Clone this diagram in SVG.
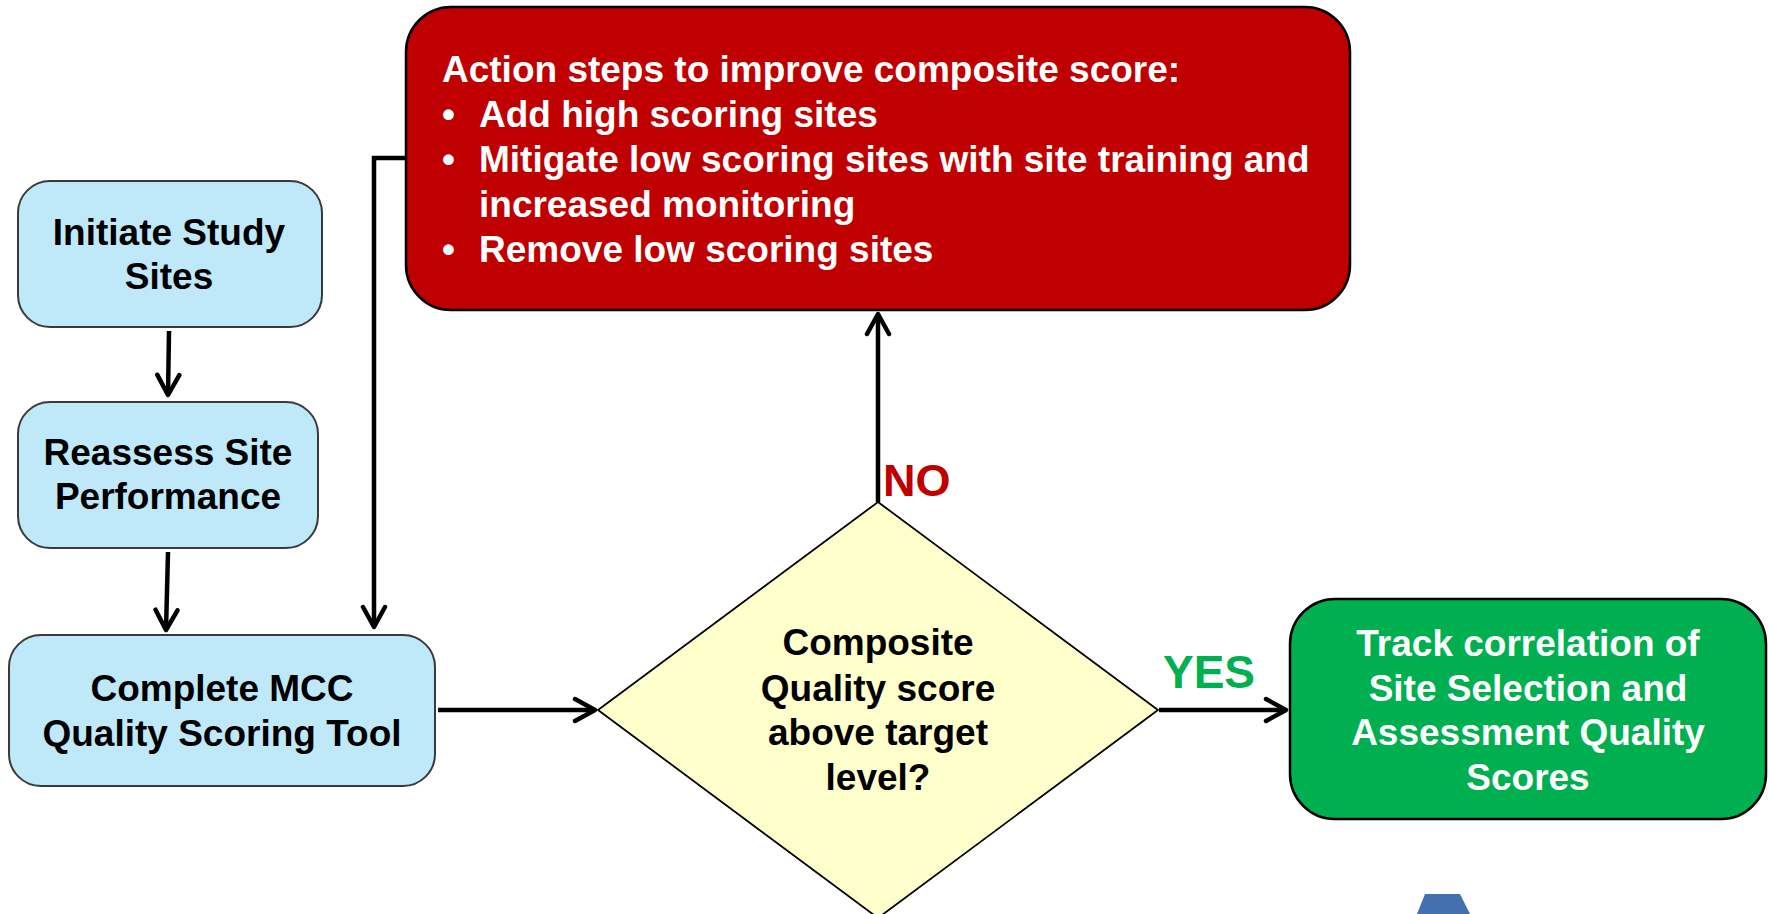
<svg xmlns="http://www.w3.org/2000/svg" width="1769" height="914" viewBox="0 0 1769 914">
<defs>
<style>
text{font-family:"Liberation Sans",Arial,Helvetica,sans-serif;font-weight:bold;}
.blue{fill:#BFE9F8;stroke:#3a3a3a;stroke-width:2;}
.red{fill:#C00000;stroke:#000;stroke-width:2.5;}
.green{fill:#00B050;stroke:#000;stroke-width:2.5;}
.dia{fill:#FFFFCC;stroke:#000;stroke-width:1.8;}
.t{font-size:37px;fill:#000;text-anchor:middle;}
.w{font-size:37px;fill:#fff;}
.wc{font-size:37px;fill:#fff;text-anchor:middle;}
.conn{fill:none;stroke:#000;stroke-width:4.5;}
</style>
<marker id="arr" markerUnits="userSpaceOnUse" viewBox="-24 -14 28 28" refX="0" refY="0" markerWidth="28" markerHeight="28" orient="auto">
<path d="M-20,-11 L0,0 L-20,11" fill="none" stroke="#000" stroke-width="4.5" stroke-linecap="round" stroke-linejoin="round"/>
</marker>
</defs>
<rect width="1769" height="914" fill="#fff"/>

<g id="connectors">
<line class="conn" x1="169" y1="331" x2="168" y2="395" marker-end="url(#arr)"/>
<line class="conn" x1="168" y1="552" x2="166" y2="630" marker-end="url(#arr)"/>
<polyline class="conn" points="406,158 374,158 374,627" marker-end="url(#arr)"/>
<line class="conn" x1="438" y1="710" x2="595" y2="710" marker-end="url(#arr)"/>
<line class="conn" x1="878" y1="502" x2="878" y2="314" marker-end="url(#arr)"/>
<line class="conn" x1="1159" y1="710" x2="1286" y2="710" marker-end="url(#arr)"/>
</g>

<g id="node-initiate">
<rect class="blue" x="18" y="181" width="304" height="146" rx="32"/>
<text class="t" x="169" y="245">Initiate Study</text>
<text class="t" x="169" y="289">Sites</text>
</g>

<g id="node-reassess">
<rect class="blue" x="18" y="402" width="300" height="146" rx="32"/>
<text class="t" x="168" y="465">Reassess Site</text>
<text class="t" x="168" y="509">Performance</text>
</g>

<g id="node-complete">
<rect class="blue" x="9" y="635" width="426" height="151" rx="32"/>
<text class="t" x="222" y="701">Complete MCC</text>
<text class="t" x="222" y="746">Quality Scoring Tool</text>
</g>

<g id="node-action">
<rect class="red" x="406" y="7" width="944" height="303" rx="45"/>
<text class="w" x="442" y="82">Action steps to improve composite score:</text>
<text class="w" x="442" y="127">•</text>
<text class="w" x="479" y="127">Add high scoring sites</text>
<text class="w" x="442" y="172">•</text>
<text class="w" x="479" y="172">Mitigate low scoring sites with site training and</text>
<text class="w" x="479" y="217">increased monitoring</text>
<text class="w" x="442" y="262">•</text>
<text class="w" x="479" y="262">Remove low scoring sites</text>
</g>

<g id="node-decision">
<polygon class="dia" points="878,502 1158,710 878,918 598,710"/>
<text class="t" x="878" y="655">Composite</text>
<text class="t" x="878" y="701">Quality score</text>
<text class="t" x="878" y="745">above target</text>
<text class="t" x="878" y="790">level?</text>
</g>

<g id="node-track">
<rect class="green" x="1290" y="599" width="476" height="220" rx="45"/>
<text class="wc" x="1528" y="656">Track correlation of</text>
<text class="wc" x="1528" y="701">Site Selection and</text>
<text class="wc" x="1528" y="745">Assessment Quality</text>
<text class="wc" x="1528" y="790">Scores</text>
</g>

<g id="labels">
<text x="883" y="496" style="font-size:45px;fill:#C00000;">NO</text>
<text x="1163" y="688" style="font-size:46px;fill:#00B050;">YES</text>
</g>

<polygon points="1425,894 1460,894 1470,914 1417,914" fill="#4470B0"/>
</svg>
